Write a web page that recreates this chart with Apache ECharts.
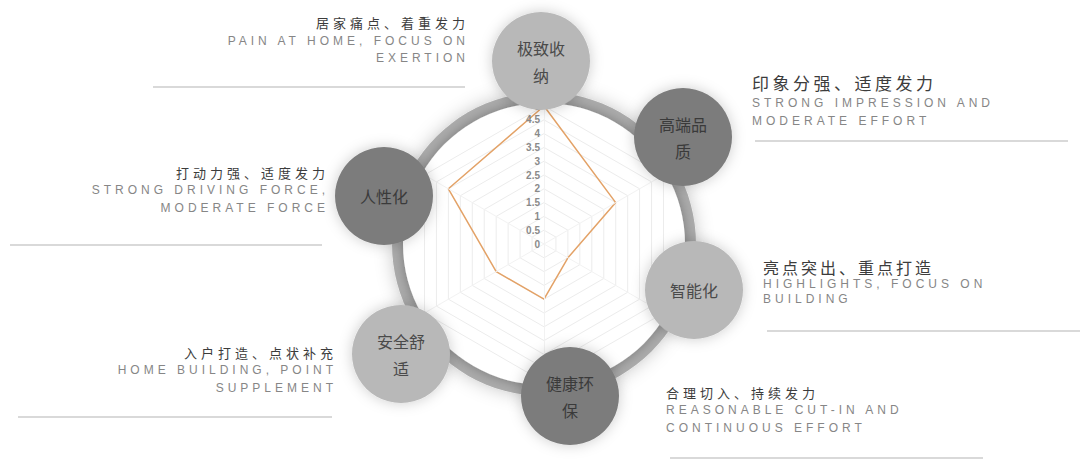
<!DOCTYPE html>
<html>
<head>
<meta charset="utf-8">
<script src="https://cdn.jsdelivr.net/npm/echarts@6/dist/echarts.min.js"></script>
<style>
    html, body { margin: 0; padding: 0; background: #fff; }
    #main { width: 1080px; height: 467px; }
</style>
</head>
<body>
<div id="main"></div>
<script>
// indicators in echarts order (counter-clockwise from the top)
var indicators = ['极致收纳', '人性化', '安全舒适', '健康环保', '智能化', '高端品质'];
var scores = [5, 4, 2, 2, 1, 3];
var scoreMax = 5;
var bubbleText = ['极致收\n纳', '人性化', '安全舒\n适', '健康环\n保', '智能化', '高端品\n质'];
var notesCn = ['居家痛点、着重发力', '打动力强、适度发力', '入户打造、点状补充', '合理切入、持续发力', '亮点突出、重点打造', '印象分强、适度发力'];
var notesEn = [
    ['PAIN AT HOME, FOCUS ON', 'EXERTION'],
    ['STRONG DRIVING FORCE,', 'MODERATE FORCE'],
    ['HOME BUILDING, POINT', 'SUPPLEMENT'],
    ['REASONABLE CUT-IN AND', 'CONTINUOUS EFFORT'],
    ['HIGHLIGHTS, FOCUS ON', 'BUILDING'],
    ['STRONG IMPRESSION AND', 'MODERATE EFFORT']
];

var cx = 544, cy = 244;

// layout of the bubbles and the note blocks (same order as indicators)
var bubblePos = [
    {x: 541, y: 61, dark: false},
    {x: 384, y: 196, dark: true},
    {x: 401, y: 354, dark: false},
    {x: 570, y: 396, dark: true},
    {x: 694, y: 290, dark: false},
    {x: 683, y: 137, dark: true}
];
var notePos = [
    {x: 465, align: 'right', y: [22, 41, 58], size: 13, gap: 4, line: [153, 465, 87]},
    {x: 325, align: 'right', y: [172, 190, 208], size: 13, gap: 4, line: [10, 322, 245]},
    {x: 333, align: 'right', y: [352, 370, 388], size: 13, gap: 4, line: [18, 332, 417]},
    {x: 666, align: 'left', y: [392, 410, 428], size: 13, gap: 4, line: [670, 983, 458]},
    {x: 763, align: 'left', y: [267, 284, 299], size: 16, gap: 3, line: [767, 1080, 331]},
    {x: 752, align: 'left', y: [82, 103, 121], size: 17, gap: 3.5, line: [755, 1068, 141]}
];
var enGap = 4;

var graphics = [];
var spacing = {};

// ring + white disk behind the radar
graphics.push({
    type: 'circle', z: 0,
    shape: {cx: cx, cy: cy, r: 152},
    style: {fill: '#ababab', shadowBlur: 18, shadowColor: 'rgba(0,0,0,0.22)'}
});
graphics.push({
    type: 'circle', z: 0,
    shape: {cx: cx, cy: cy, r: 141},
    style: {fill: '#ffffff', shadowBlur: 12, shadowColor: 'rgba(0,0,0,0.3)'}
});

bubblePos.forEach(function (b, i) {
    graphics.push({
        type: 'circle', z: 100,
        shape: {cx: b.x, cy: b.y, r: 49},
        style: {
            fill: b.dark ? '#7c7c7c' : '#b8b8b8',
            shadowBlur: 14, shadowColor: 'rgba(0,0,0,0.2)'
        }
    });
    graphics.push({
        type: 'text', z: 101,
        x: b.x, y: b.y,
        style: {
            text: bubbleText[i],
            fill: b.dark ? '#3a3a3a' : '#4a4a4a',
            font: '16px "Noto Sans CJK SC"',
            lineHeight: 27,
            align: 'center',
            verticalAlign: 'middle'
        }
    });
});

notePos.forEach(function (n, i) {
    var right = n.align === 'right';
    spacing[notesCn[i]] = n.gap;
    graphics.push({
        type: 'text', z: 5,
        x: n.x + (right ? n.gap : 0), y: n.y[0],
        style: {
            text: notesCn[i], fill: '#3c3c3c',
            font: n.size + 'px "Noto Sans CJK SC"',
            align: n.align, verticalAlign: 'middle'
        }
    });
    notesEn[i].forEach(function (t, k) {
        spacing[t] = enGap;
        graphics.push({
            type: 'text', z: 5,
            x: n.x + (right ? enGap : 0), y: n.y[k + 1],
            style: {
                text: t, fill: '#868686',
                font: '12px "Liberation Sans"',
                align: n.align, verticalAlign: 'middle'
            }
        });
    });
    graphics.push({
        type: 'line', z: 5,
        shape: {x1: n.line[0], y1: n.line[2], x2: n.line[1], y2: n.line[2]},
        style: {stroke: '#cccccc', lineWidth: 1.5}
    });
});

var option = {
    animation: false,
    backgroundColor: '#fff',
    graphic: {elements: graphics},
    radar: {
        center: [cx, cy],
        radius: 138,
        startAngle: 90,
        splitNumber: 10,
        shape: 'polygon',
        z: 10,
        axisName: {show: false},
        splitLine: {lineStyle: {color: '#ececec', width: 1}},
        splitArea: {show: false},
        axisLine: {lineStyle: {color: '#f2f2f2'}},
        axisLabel: {show: false},
        indicator: indicators.map(function (name, i) {
            var ind = {name: name, min: 0, max: scoreMax};
            if (i === 0) {
                ind.axisLabel = {
                    show: true, color: '#8a8a8a', fontSize: 10,
                    fontWeight: 'bold', margin: 4
                };
            }
            return ind;
        })
    },
    series: [{
        type: 'radar',
        z: 10,
        symbol: 'none',
        lineStyle: {color: '#e3a267', width: 1.5},
        data: [{value: scores, name: '评分'}]
    }]
};

var chart = echarts.init(document.getElementById('main'), null, {renderer: 'svg'});
chart.setOption(option);

// letter spacing for the note texts
document.querySelectorAll('#main svg text').forEach(function (t) {
    var gap = spacing[t.textContent];
    if (gap) {
        t.style.letterSpacing = gap + 'px';
    }
});
</script>
</body>
</html>
